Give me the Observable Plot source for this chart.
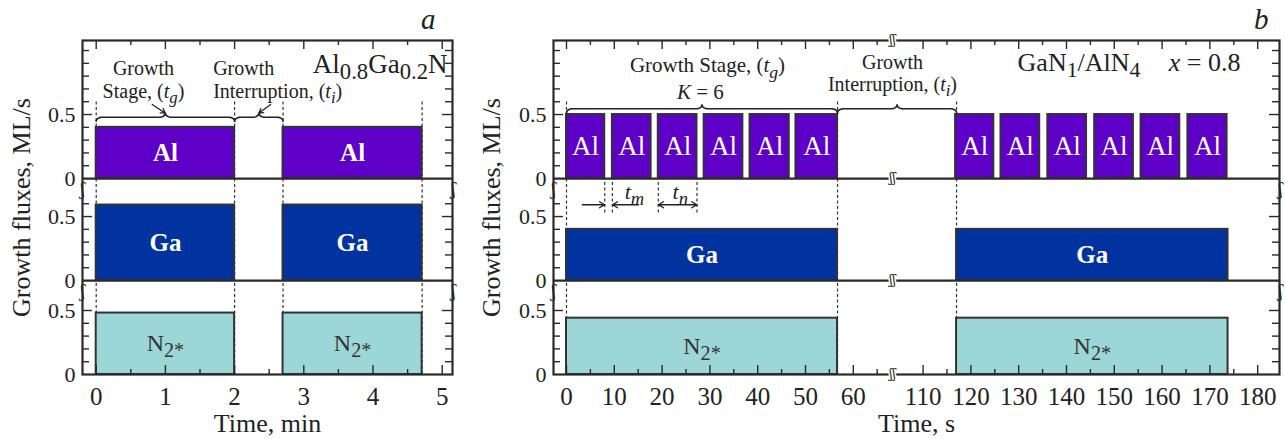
<!DOCTYPE html>
<html><head><meta charset="utf-8">
<script src="https://cdn.jsdelivr.net/npm/d3@7"></script>
<script src="https://cdn.jsdelivr.net/npm/@observablehq/plot@0.6"></script>
<style>
body{margin:0;background:#fff;}
#wrap{display:flex;width:1285px;height:439px;overflow:hidden;}
#wrap svg{display:block;flex:none;max-width:none;}
</style></head><body><div id="wrap"></div>
<script>
// ---------- data ----------
const yTitle = "Growth fluxes, ML/s";
const aXTitle = "Time, min";
const bXTitle = "Time, s";
const rowNames = ["Al", "Ga", "N"];
const rowTickMax = [1.0, 0.6, 0.5];
const yLabelValues = [0, 0.5];

// panel a (minutes)
const aStageStart = [0, 2.7];
const aStageEnd = [2.0, 4.71];
const aFluxAl = 0.40, aFluxGa = 0.59, aFluxN = 0.48;
const aXMajor = [0, 1, 2, 3, 4, 5];
const aXMinor = [0.5, 1.5, 2.5, 3.5, 4.5];

// panel b (seconds)
const bAlStart = [0, 9.6, 19.2, 28.8, 38.4, 48.0, 116.8, 126.3, 136.1, 145.9, 155.6, 165.4];
const bAlEnd = [8.0, 17.7, 27.3, 36.9, 46.6, 56.7, 124.8, 134.4, 144.2, 154.0, 163.7, 173.6];
const bStageStart = [0, 117.0];
const bStageEnd = [56.7, 173.8];
const bFluxAl = 0.50, bFluxGa = 0.40, bFluxN = 0.44;
const bXMajor = [0, 10, 20, 30, 40, 50, 60, 110, 120, 130, 140, 150, 160, 170, 180];
const bXMinor = [5, 15, 25, 35, 45, 55, 65, 115, 125, 135, 145, 155, 165, 175];

// ---------- style / layout ----------
const H = 439, MT = 40, MB = 65, PXU = 128;
const rowBase = [1.531, 0.734, 0];
const colAl = "#5e00c8", colGa = "#0033a0", colN = "#9dd6d6";
const AX = "#2a2a2a", INK = "#222";
const FONT = "'Liberation Serif', 'Times New Roman', serif";

function bracePts(id, x0, x1, L, ex, d) {
  const pts = [], xm = (x0 + x1) / 2, n = 6;
  for (let k = 0; k <= n; k++) { const t = k / n * Math.PI / 2; pts.push({id, x: x0 + ex * (1 - Math.cos(t)), y: L - d + d * Math.sin(t)}); }
  for (let k = 0; k <= n; k++) { const t = k / n * Math.PI / 2; pts.push({id, x: xm - ex + ex * Math.sin(t), y: L + d * (1 - Math.cos(t))}); }
  for (let k = 0; k <= n; k++) { const t = k / n * Math.PI / 2; pts.push({id, x: xm + ex * (1 - Math.cos(t)), y: L + d - d * Math.sin(t)}); }
  for (let k = 0; k <= n; k++) { const t = k / n * Math.PI / 2; pts.push({id, x: x1 - ex + ex * Math.sin(t), y: L - d * (1 - Math.cos(t))}); }
  return pts;
}

function makePanel(cfg) {
  const fw = cfg.width - cfg.ml - cfg.mr, fh = H - MT - MB;
  const xm = cfg.xm;
  const yMinor = [], yMajor = [], yLab = [];
  rowBase.forEach((b, i) => {
    for (let k = 1; k <= Math.round(rowTickMax[i] * 10); k++) (k === 5 ? yMajor : yMinor).push(b + k / 10);
    yLabelValues.forEach(v => yLab.push({y: b + v, t: String(v)}));
  });
  const bars = [];
  cfg.stages.forEach(s => {
    bars.push({x1: s[0], x2: s[1], base: rowBase[1], flux: cfg.fluxGa, fill: colGa, label: "Ga", kind: "Ga"});
    bars.push({x1: s[0], x2: s[1], base: rowBase[2], flux: cfg.fluxN, fill: colN, label: "N<sub>2*</sub>", kind: "N"});
  });
  cfg.alPulses.forEach(s => bars.push({x1: s[0], x2: s[1], base: rowBase[0], flux: cfg.fluxAl, fill: colAl, label: "Al", kind: "Al"}));
  const bx = d => xm((d.x1 + d.x2) / 2), by = d => d.base + d.flux / 2;
  const marks = [
    ...cfg.under,
    Plot.rect(bars, {x1: d => xm(d.x1), x2: d => xm(d.x2), y1: "base", y2: d => d.base + d.flux, fill: "fill", stroke: "#333", strokeWidth: 2}),
    Plot.text(bars.filter(d => d.kind === "Al"), {x: bx, y: by, text: "label", fill: "white", fontSize: cfg.alSize, fontWeight: cfg.alWeight, lineAnchor: "middle"}),
    Plot.text(bars.filter(d => d.kind === "Ga"), {x: bx, y: by, text: "label", fill: "white", fontSize: 25, fontWeight: "bold", lineAnchor: "middle"}),
    Plot.text(bars.filter(d => d.kind === "N"), {x: bx, y: by, text: "label", fill: "#333", fontSize: 24, lineAnchor: "middle"}),
    Plot.ruleY([rowBase[0], rowBase[1]], {stroke: AX, strokeWidth: 2.2}),
    Plot.frame({stroke: AX, strokeWidth: 2.2}),
    // y ticks (inward, both sides)
    Plot.tickY(yMinor, {y: d => d, insetRight: fw - 7, stroke: AX, strokeWidth: 1.4}),
    Plot.tickY(yMajor, {y: d => d, insetRight: fw - 10, stroke: AX, strokeWidth: 1.4}),
    Plot.tickY(yMinor, {y: d => d, insetLeft: fw - 7, stroke: AX, strokeWidth: 1.4}),
    Plot.tickY(yMajor, {y: d => d, insetLeft: fw - 10, stroke: AX, strokeWidth: 1.4}),
    // x ticks (inward, top and bottom)
    Plot.tickX(cfg.xMajor, {x: d => xm(d), insetBottom: fh - 9, stroke: AX, strokeWidth: 1.4}),
    Plot.tickX(cfg.xMinor, {x: d => xm(d), insetBottom: fh - 5, stroke: AX, strokeWidth: 1.4}),
    Plot.tickX(cfg.xMajor, {x: d => xm(d), insetTop: fh - 9, stroke: AX, strokeWidth: 1.4}),
    Plot.tickX(cfg.xMinor, {x: d => xm(d), insetTop: fh - 5, stroke: AX, strokeWidth: 1.4}),
    // tick labels
    Plot.text(yLab, {y: "y", text: "t", frameAnchor: "left", dx: -7, textAnchor: "end", lineAnchor: "middle", fontSize: 22, fill: INK}),
    Plot.text(cfg.xMajor, {x: d => xm(d), text: d => String(d), frameAnchor: "bottom", dy: 22, lineAnchor: "middle", fontSize: 25, fill: INK}),
    // axis titles
    Plot.text([cfg.xTitle], {frameAnchor: "bottom", dy: 49, lineAnchor: "middle", fontSize: 26, fill: INK}),
    Plot.text([yTitle], {frameAnchor: "left", dx: cfg.yTitleDx, rotate: -90, textAnchor: "middle", lineAnchor: "middle", fontSize: 26, fill: INK}),
    // frame breaks between rows
    Plot.text([rowBase[0] - 0.09, rowBase[1] - 0.09], {y: d => d, text: () => "ʃ", frameAnchor: "left", dx: -2, fontSize: 16, fill: INK, lineAnchor: "middle", fontFamily: "DejaVu Serif"}),
    Plot.text([rowBase[0] - 0.09, rowBase[1] - 0.09], {y: d => d, text: () => "ʃ", frameAnchor: "right", dx: 3, fontSize: 16, fill: INK, lineAnchor: "middle", fontFamily: "DejaVu Serif"}),
    ...cfg.over
  ];
  return Plot.plot({
    width: cfg.width, height: H,
    marginLeft: cfg.ml, marginRight: cfg.mr, marginTop: MT, marginBottom: MB,
    x: {domain: cfg.xdom, axis: null},
    y: {domain: [0, fh / PXU], axis: null},
    color: {type: "identity"},
    style: {fontFamily: FONT, background: "white", overflow: "visible", color: INK},
    marks
  });
}

// ---------- panel a ----------
const aPx = 69.2; // px per minute
const aIdent = t => t;
const aBraceL = rowBase[0] + 0.479, aBraceD = 4 / PXU, aBraceE = 6 / aPx;
const aBraces = [
  ...bracePts(0, aStageStart[0], aStageEnd[0], aBraceL, aBraceE, aBraceD),
  ...bracePts(1, aStageEnd[0], aStageStart[1], aBraceL, aBraceE, aBraceD)
];
const aTip1 = (aStageStart[0] + aStageEnd[0]) / 2, aTip2 = (aStageEnd[0] + aStageStart[1]) / 2;
const panelA = makePanel({
  width: 470, ml: 82, mr: 18, xdom: [-0.198, -0.198 + 370 / aPx], xm: aIdent,
  xMajor: aXMajor, xMinor: aXMinor, xTitle: aXTitle, yTitleDx: -61,
  stages: aStageStart.map((s, i) => [s, aStageEnd[i]]),
  alPulses: aStageStart.map((s, i) => [s, aStageEnd[i]]),
  fluxAl: aFluxAl, fluxGa: aFluxGa, fluxN: aFluxN, alSize: 25, alWeight: "bold",
  under: [
    Plot.ruleX([...aStageStart, ...aStageEnd], {y1: 0, y2: rowBase[0] + 0.61, stroke: "#333", strokeWidth: 1.2, strokeDasharray: "3,2.5"})
  ],
  over: [
    Plot.line(aBraces, {x: "x", y: "y", z: "id", stroke: INK, strokeWidth: 1.6}),
    Plot.arrow([{x1: aTip1 - 0.19, y1: aBraceL + 0.10, x2: aTip1, y2: aBraceL + aBraceD}, {x1: aTip2 + 0.17, y1: aBraceL + 0.10, x2: aTip2, y2: aBraceL + aBraceD}],
      {x1: "x1", y1: "y1", x2: "x2", y2: "y2", stroke: INK, strokeWidth: 1.3, headLength: 7, bend: 0}),
    Plot.text(["Growth\nStage, (<i>t</i><isub>g</isub>)"], {x: 0.683, y: rowBase[0] + 0.633, fontSize: 20, lineHeight: 1.11, lineAnchor: "bottom", fill: INK}),
    Plot.text(["Growth\nInterruption, (<i>t</i><isub>i</isub>)"], {x: 1.69, y: rowBase[0] + 0.633, fontSize: 20, lineHeight: 1.11, textAnchor: "start", lineAnchor: "bottom", fill: INK}),
    Plot.text(["Al<sub>0.8</sub>Ga<sub>0.2</sub>N"], {frameAnchor: "top-right", dx: -5, dy: 32, textAnchor: "end", lineAnchor: "bottom", fontSize: 27, fill: INK}),
    Plot.text(["a"], {frameAnchor: "top-right", dx: -17, dy: -12, textAnchor: "end", lineAnchor: "bottom", fontSize: 29, fontStyle: "italic", fill: INK})
  ]
});

// ---------- panel b (axis with a break) ----------
const bPx = 4.78; // px per second
const bGapCut = 35.4, bBreakAt = 68.2;
const bMap = t => (t > 80 ? t - bGapCut : t);
const bBraceL = rowBase[0] + 0.545, bBraceD = 4 / PXU, bBraceE = 6 / bPx;
const bBraces = [
  ...bracePts(0, bMap(bStageStart[0]), bMap(bStageEnd[0]), bBraceL, bBraceE, bBraceD),
  ...bracePts(1, bMap(bStageEnd[0]), bMap(bStageStart[1]), bBraceL, bBraceE, bBraceD)
];
const bArrY = rowBase[0] - 0.205, bLabY = rowBase[0] - 0.16;
const tmA = bAlEnd[0], tmB = bAlStart[1], tnA = bAlStart[2], tnB = bAlEnd[2];
const panelB = makePanel({
  width: 815, ml: 83, mr: 6, xdom: [-2.72, -2.72 + 726 / bPx], xm: bMap,
  xMajor: bXMajor, xMinor: bXMinor, xTitle: bXTitle, yTitleDx: -62,
  stages: bStageStart.map((s, i) => [s, bStageEnd[i]]),
  alPulses: bAlStart.map((s, i) => [s, bAlEnd[i]]),
  fluxAl: bFluxAl, fluxGa: bFluxGa, fluxN: bFluxN, alSize: 27, alWeight: "normal",
  under: [
    Plot.ruleX([bStageStart[0], bStageEnd[0], bStageStart[1]], {x: d => bMap(d), y1: 0, y2: rowBase[0] + 0.61, stroke: "#333", strokeWidth: 1.2, strokeDasharray: "3,2.5"}),
    Plot.ruleX([tmA, tmB, tnA, tnB], {x: d => bMap(d), y1: rowBase[0] - 0.27, y2: rowBase[0], stroke: "#333", strokeWidth: 1.2, strokeDasharray: "3,2.5"})
  ],
  over: [
    Plot.line(bBraces, {x: "x", y: "y", z: "id", stroke: INK, strokeWidth: 1.6}),
    Plot.arrow([
      {x1: tmA - 4.7, x2: tmA}, {x1: tmB + 5.5, x2: tmB},
      {x1: (tnA + tnB) / 2, x2: tnA}, {x1: (tnA + tnB) / 2, x2: tnB}
    ], {x1: "x1", x2: "x2", y1: bArrY, y2: bArrY, stroke: INK, strokeWidth: 1.3, headLength: 7}),
    Plot.text([
      {x: 14.2, t: "<i>t</i><isub>m</isub>"}, {x: 23.8, t: "<i>t</i><isub>n</isub>"}
    ], {x: "x", y: bLabY, text: "t", fontSize: 22, lineAnchor: "bottom", fill: INK}),
    Plot.text([
      {x: 29.5, y: rowBase[0] + 0.83, t: "Growth Stage, (<i>t</i><isub>g</isub>)"},
      {x: 28.0, y: rowBase[0] + 0.625, t: "<i>K</i> = 6"}
    ], {x: "x", y: "y", text: "t", fontSize: 21, lineAnchor: "bottom", fill: INK}),
    Plot.text(["Growth\nInterruption, (<i>t</i><isub>i</isub>)"], {x: 68.2, y: rowBase[0] + 0.68, fontSize: 20, lineHeight: 1.11, lineAnchor: "bottom", fill: INK}),
    Plot.text(["GaN<sub>1</sub>/AlN<sub>4</sub>"], {frameAnchor: "top-right", dx: -139, dy: 30, textAnchor: "end", lineAnchor: "bottom", fontSize: 26, fill: INK}),
    Plot.text(["<i>x</i> = 0.8"], {frameAnchor: "top-right", dx: -39, dy: 30, textAnchor: "end", lineAnchor: "bottom", fontSize: 26, fill: INK}),
    Plot.text(["b"], {frameAnchor: "top-right", dx: -11, dy: -12, textAnchor: "end", lineAnchor: "bottom", fontSize: 29, fontStyle: "italic", fill: INK}),
    // axis breaks on horizontal lines
    Plot.text([0, rowBase[1], rowBase[0], 334 / PXU], {x: bBreakAt, y: d => d, text: () => "ʃʃ", fontSize: 12, lineAnchor: "middle", fill: INK, stroke: "white", strokeWidth: 3, fontFamily: "DejaVu Serif"})
  ]
});

const wrap = document.getElementById("wrap");
wrap.appendChild(panelA);
wrap.appendChild(panelB);

// rich text: <i>, <sub>, <isub> markup -> nested tspans
const SVGNS = "http://www.w3.org/2000/svg";
function richify(node, fs) {
  const s = node.textContent;
  if (!/<(i|sub|isub)>/.test(s)) return;
  node.textContent = "";
  let shift = 0, last = 0, m;
  const add = (txt, kind) => {
    const t = document.createElementNS(SVGNS, "tspan");
    t.textContent = txt;
    const sub = kind === "sub" || kind === "isub";
    const target = sub ? fs * 0.25 : 0;
    if (target !== shift) { t.setAttribute("dy", target - shift); shift = target; }
    if (sub) t.setAttribute("font-size", fs * 0.84);
    if (kind === "i" || kind === "isub") t.setAttribute("font-style", "italic");
    node.appendChild(t);
  };
  const re = /<(i|sub|isub)>(.*?)<\/\1>/g;
  while ((m = re.exec(s))) { if (m.index > last) add(s.slice(last, m.index), ""); add(m[2], m[1]); last = re.lastIndex; }
  if (last < s.length) add(s.slice(last), "");
}
document.querySelectorAll("#wrap svg text").forEach(el => {
  const fs = parseFloat(getComputedStyle(el).fontSize) || 20;
  const lines = Array.from(el.children).filter(c => c.tagName === "tspan");
  if (lines.length) lines.forEach(l => richify(l, fs));
  else richify(el, fs);
});
</script></body></html>
